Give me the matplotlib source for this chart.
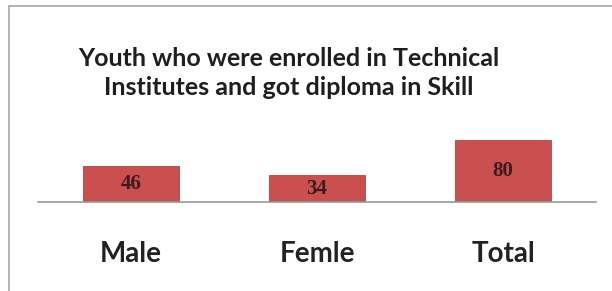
import matplotlib
matplotlib.use("Agg")
import matplotlib.pyplot as plt
from matplotlib.patches import Rectangle

# data
categorias = ["Male", "Femle", "Total"]
valores = [46, 34, 80]
titulo = "Youth who were enrolled in Technical\nInstitutes and got diploma in Skill"

W, H = 612, 291
fig = plt.figure(figsize=(W / 100, H / 100), dpi=100)
fig.patch.set_facecolor("white")

# moldura cinzenta (cortada em baixo e à direita)
fig.patches.append(Rectangle((9 / W, -0.05), 1.2, (H - 6) / H + 0.05, transform=fig.transFigure,
                             fill=False, edgecolor="#a6a6a6", linewidth=1.2))

ax = fig.add_axes([38 / W, (H - 202) / H, 558 / W, 78 / H])
ax.bar(range(len(valores)), valores, width=0.52, color="#c9504f",
       edgecolor="#b04442", linewidth=0.6, zorder=2)
ax.set_xlim(-0.5, 2.5)
ax.set_ylim(0, 100)

for i, v in enumerate(valores):
    ax.text(i, v / 2, str(v), ha="center", va="center", family="Liberation Serif",
            fontweight="bold", fontsize=15, color="#3b1c1c")

for lado in ["top", "right", "left"]:
    ax.spines[lado].set_visible(False)
ax.spines["bottom"].set_color("#9a9a9a")
ax.spines["bottom"].set_linewidth(1.2)
ax.set_yticks([])
ax.set_xticks(range(len(categorias)))
ax.set_xticklabels(categorias, family="Lato", fontweight="bold", fontsize=20, color="#222222")
ax.tick_params(axis="x", length=0, pad=28)
ax.set_facecolor("none")

fig.text(289 / W, 1 - 73 / H, titulo, ha="center", va="center", family="Lato",
         fontweight="bold", fontsize=18, color="#1e1e1e", linespacing=1.28)

fig.savefig("out.png", dpi=100)
